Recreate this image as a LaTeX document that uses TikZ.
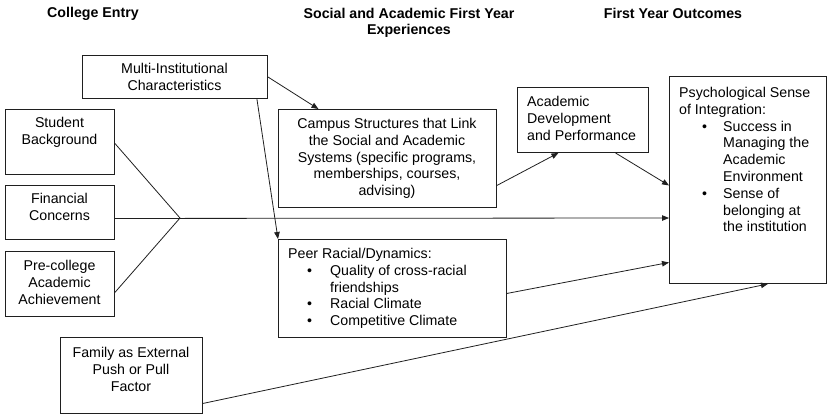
\documentclass[tikz,border=0pt]{standalone}
\usepackage{fontspec}
\setmainfont{Liberation Sans}
\usetikzlibrary{arrows.meta}
% bullet line: indent, bullet, then text column
\newcommand\itembullet[2]{\hspace*{#1}\makebox[#2][l]{\textbullet}}
\newcommand\itemcont[1]{\hspace*{#1}}
\begin{document}
\begin{tikzpicture}[x=1pt,y=-1pt,
  box/.style={draw=black!88, line width=0.9pt, inner sep=0pt, anchor=north west},
  txt/.style={inner sep=0pt, font=\fontsize{14.2}{16.8}\selectfont, align=center, anchor=north},
  ltxt/.style={inner sep=0pt, font=\fontsize{14.2}{16.8}\selectfont, align=left, anchor=north west},
  head/.style={inner sep=0pt, font=\fontsize{14.2}{16.5}\selectfont\bfseries, align=center, anchor=north},
  link/.style={draw=black!88, line width=0.8pt},
  arr/.style={link, -{Triangle[length=7pt,width=5.5pt]}}]
\useasboundingbox (0,0) rectangle (827,416);

% column headings
\node[head] (h1) at (93,7.5) {College Entry};
\node[head] (h2) at (409,8) {Social and Academic First Year\\Experiences};
\node[head] (h3) at (673,8) {First Year Outcomes};

% boxes
\node[box, minimum width=185pt, minimum height=43pt] (ms) at (82,55) {};
\node[box, minimum width=109pt, minimum height=65pt] (sb) at (5,109) {};
\node[box, minimum width=109pt, minimum height=54pt] (fc) at (5,185) {};
\node[box, minimum width=109pt, minimum height=65pt] (pc) at (5,251) {};
\node[box, minimum width=142pt, minimum height=76pt] (fa) at (60,337) {};
\node[box, minimum width=218pt, minimum height=98pt] (cs) at (278,109) {};
\node[box, minimum width=228pt, minimum height=98pt] (pr) at (278,239) {};
\node[box, minimum width=131pt, minimum height=65pt] (ad) at (517,87) {};
\node[box, minimum width=157pt, minimum height=207pt] (ps) at (669,76) {};

% box texts
\node[txt] (mst) at (174.5,63) {Multi-Institutional\\Characteristics};
\node[txt] (sbt) at (59.5,117) {Student\\Background};
\node[txt] (fct) at (59.5,193) {Financial\\Concerns};
\node[txt] (pct) at (59.5,260) {Pre-college\\Academic\\Achievement};
\node[txt] (fat) at (131,347) {Family as External\\Push or Pull\\Factor};
\node[txt] (cst) at (387,118) {Campus Structures that Link\\the Social and Academic\\Systems (specific programs,\\memberships, courses,\\advising)};
\node[ltxt] (prt) at (288,248) {Peer Racial/Dynamics:\\
  \itembullet{19pt}{23pt}Quality of cross-racial\\
  \itemcont{42pt}friendships\\
  \itembullet{19pt}{23pt}Racial Climate\\
  \itembullet{19pt}{23pt}Competitive Climate};
\node[ltxt] (adt) at (527,96) {Academic\\Development\\and Performance};
\node[ltxt] (pst) at (679,87) {Psychological Sense\\of Integration:\\
  \itembullet{23pt}{21pt}Success in\\
  \itemcont{44pt}Managing the\\
  \itemcont{44pt}Academic\\
  \itemcont{44pt}Environment\\
  \itembullet{23pt}{21pt}Sense of\\
  \itemcont{44pt}belonging at\\
  \itemcont{44pt}the institution};

% merge point of the entry characteristics
\coordinate (mg) at (180,218);

% connectors
\draw[arr] (ms.east) -- ([xshift=-69pt]cs.north);
\draw[arr] ([xshift=-11pt]ms.south east) -- (pr.north west);
\draw[link] ([yshift=-1.5pt]sb.east) -- (mg);
\draw[link] ([yshift=-8.5pt]pc.east) -- (mg);
\draw[arr] ([yshift=-6pt]fc.east) -- (ps.west |- mg);
\draw[arr] ([yshift=-27pt]cs.east) -- ([xshift=-24.5pt]ad.south);
\draw[arr] ([xshift=32.5pt]ad.south) -- ([yshift=-5.5pt]ps.west);
\draw[arr] ([yshift=-5pt]pr.east) -- ([yshift=-82.5pt]ps.west);
\draw[arr] ([yshift=-28pt]fa.east) -- ([xshift=20pt]ps.south);
\end{tikzpicture}
\end{document}
